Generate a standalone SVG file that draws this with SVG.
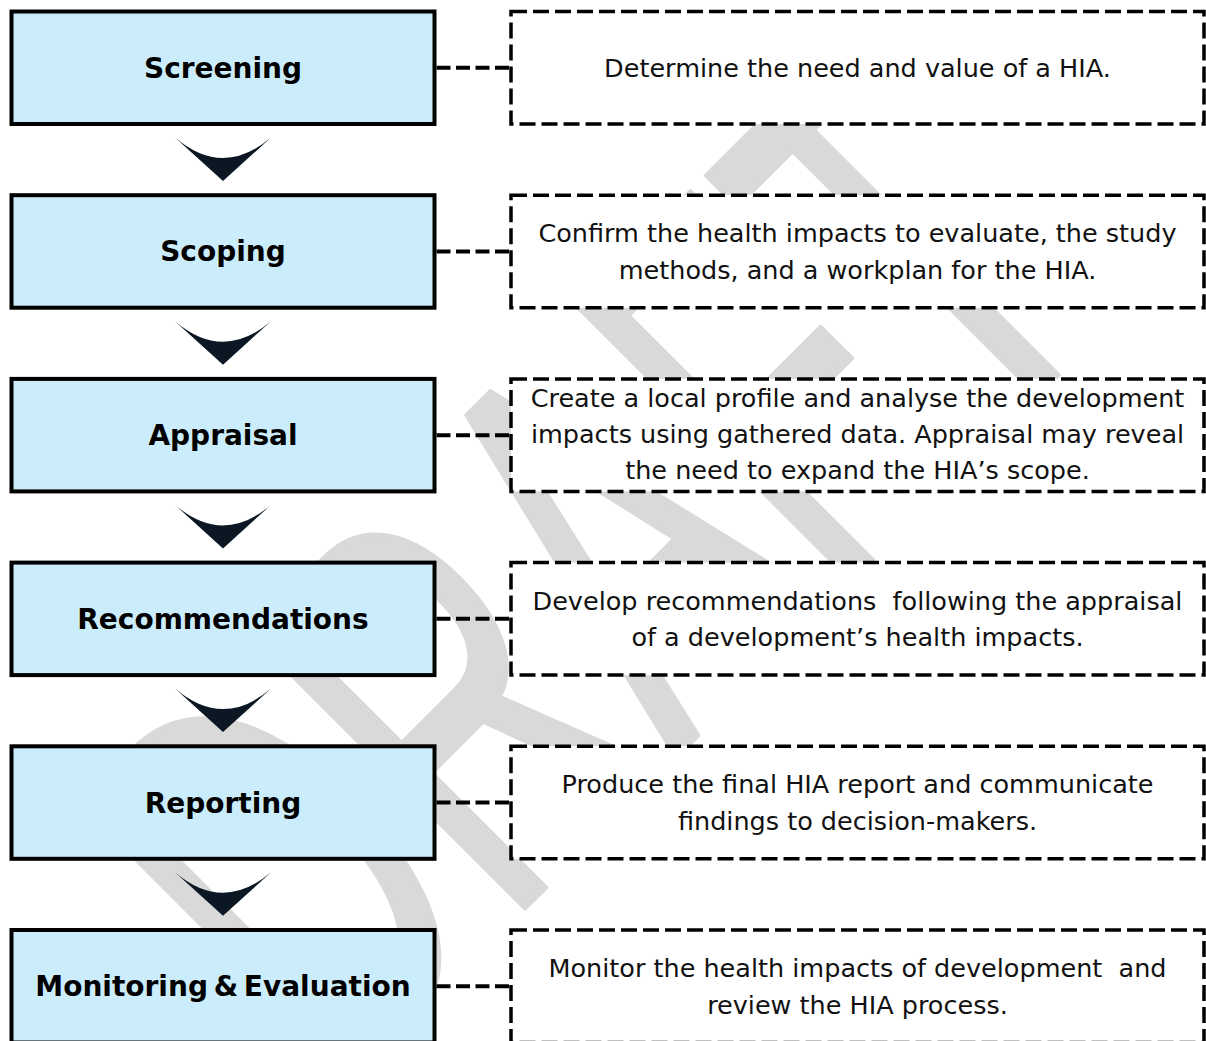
<svg xmlns="http://www.w3.org/2000/svg" width="1206" height="1041" viewBox="0 0 1206 1041">
<style>
.wm { font-family: "Liberation Sans", Arial, sans-serif; font-size: 333px; fill: #d9d9d9; stroke: #d9d9d9; stroke-width: 4px; stroke-linejoin: round; vector-effect: non-scaling-stroke; }
.step rect { fill: #CBEDFB; stroke: #000; stroke-width: 4; }
.step text { font-family: "DejaVu Sans", sans-serif; font-weight: bold; font-size: 28px; fill: #000; text-anchor: middle; }
.desc rect { fill: #fff; stroke: #000; stroke-width: 3.5; stroke-dasharray: 16 6; }
.desc text { font-family: "DejaVu Sans", sans-serif; font-size: 25.5px; fill: #111; text-anchor: middle; }
.conn line { stroke: #000; stroke-width: 4; stroke-dasharray: 14 5.5; }
.conn path { fill: #0b1722; }
</style>
<rect width="1206" height="1041" fill="#fff"/>
<g id="watermark">
<text class="wm" transform="translate(335,1098) rotate(-45) scale(1,1.7)" x="0" y="0">DRAFT</text>
</g>
<g id="connectors" class="conn">
<line x1="436.5" y1="67.75" x2="509" y2="67.75"/>
<line x1="436.5" y1="251.45" x2="509" y2="251.45"/>
<line x1="436.5" y1="435.15" x2="509" y2="435.15"/>
<line x1="436.5" y1="618.85" x2="509" y2="618.85"/>
<line x1="436.5" y1="802.55" x2="509" y2="802.55"/>
<line x1="436.5" y1="986.25" x2="509" y2="986.25"/>
<path d="M175,137.5 Q223,178.5 271,137.5 L223,181 Z"/>
<path d="M175,321.2 Q223,362.2 271,321.2 L223,364.7 Z"/>
<path d="M175,504.9 Q223,545.9 271,504.9 L223,548.4 Z"/>
<path d="M175,688.6 Q223,729.6 271,688.6 L223,732.1 Z"/>
<path d="M175,872.3 Q223,913.3 271,872.3 L223,915.8 Z"/>
</g>
<g id="screening" class="step"><rect x="11.5" y="11.5" width="423" height="112.5"/><text x="223" y="77.75">Screening</text></g>
<g id="scoping" class="step"><rect x="11.5" y="195.2" width="423" height="112.5"/><text x="223" y="261.45">Scoping</text></g>
<g id="appraisal" class="step"><rect x="11.5" y="378.9" width="423" height="112.5"/><text x="223" y="445.15">Appraisal</text></g>
<g id="recommendations" class="step"><rect x="11.5" y="562.6" width="423" height="112.5"/><text x="223" y="628.85">Recommendations</text></g>
<g id="reporting" class="step"><rect x="11.5" y="746.3" width="423" height="112.5"/><text x="223" y="812.55">Reporting</text></g>
<g id="monitoring" class="step"><rect x="11.5" y="930" width="423" height="112.5"/><text x="223" y="996.25" word-spacing="-4">Monitoring &amp; Evaluation</text></g>
<g id="screening-desc" class="desc"><rect x="511" y="11.5" width="693" height="112.5"/><text x="857.5" y="77.25">Determine the need and value of a HIA.</text></g>
<g id="scoping-desc" class="desc"><rect x="511" y="195.2" width="693" height="112.5"/><text x="857.5" y="242.2">Confirm the health impacts to evaluate, the study</text><text x="857.5" y="278.7">methods, and a workplan for the HIA.</text></g>
<g id="appraisal-desc" class="desc"><rect x="511" y="378.9" width="693" height="112.5"/><text x="857.5" y="406.5">Create a local profile and analyse the development</text><text x="857.5" y="442.8">impacts using gathered data. Appraisal may reveal</text><text x="857.5" y="479">the need to expand the HIA’s scope.</text></g>
<g id="recommendations-desc" class="desc"><rect x="511" y="562.6" width="693" height="112.5"/><text x="857.5" y="609.6">Develop recommendations&#160; following the appraisal</text><text x="857.5" y="646">of a development’s health impacts.</text></g>
<g id="reporting-desc" class="desc"><rect x="511" y="746.3" width="693" height="112.5"/><text x="857.5" y="793.3">Produce the final HIA report and communicate</text><text x="857.5" y="829.8">findings to decision-makers.</text></g>
<g id="monitoring-desc" class="desc"><rect x="511" y="930" width="693" height="112.5"/><text x="857.5" y="977">Monitor the health impacts of development&#160; and</text><text x="857.5" y="1013.5">review the HIA process.</text></g>
</svg>
